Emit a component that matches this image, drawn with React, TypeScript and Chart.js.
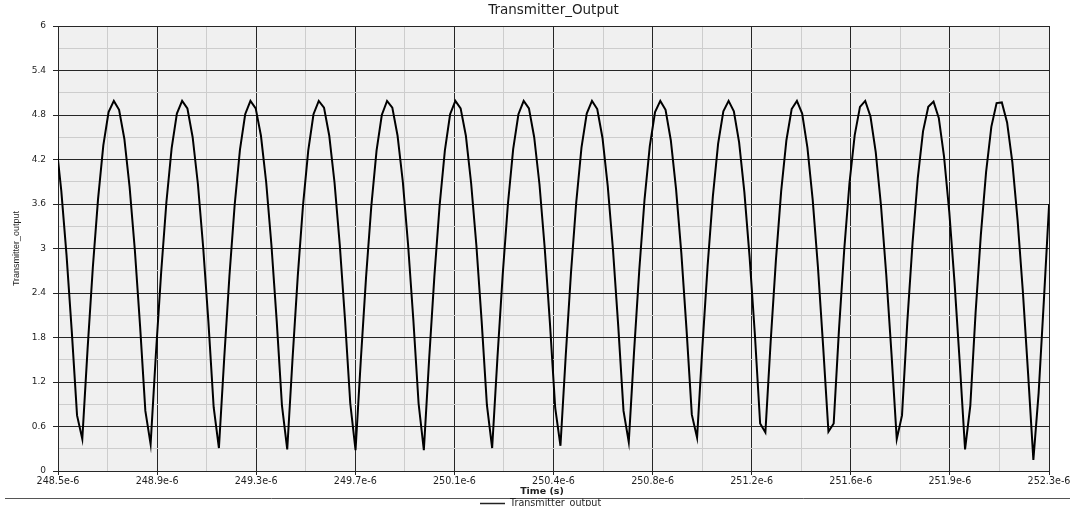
import React, { useEffect, useRef } from 'react';
import { Chart, registerables } from 'chart.js';

Chart.register(...registerables);

// ---- text ----
const CHART_TITLE = 'Transmitter_Output';
const SERIES_LABEL = 'Transmitter_output';
const X_TITLE = 'Time (s)';
const Y_TITLE = 'Transmitter_output';

// ---- axes (time in microseconds) ----
const X_MIN_US = 248.545;
const X_MAX_US = 252.317;
const xTickLabels = [
  '248.5e-6', '248.9e-6', '249.3e-6', '249.7e-6', '250.1e-6', '250.4e-6',
  '250.8e-6', '251.2e-6', '251.6e-6', '251.9e-6', '252.3e-6',
];
const Y_MIN = 0;
const Y_MAX = 6;
const yTickLabels = ['0', '0.6', '1.2', '1.8', '2.4', '3', '3.6', '4.2', '4.8', '5.4', '6'];

// ---- samples: one every 20 ns starting at 248.5375 us ----
const SAMPLE_START_US = 248.5375;
const SAMPLE_STEP_US = 0.02;
const outputValues = [
  4.44, 3.78, 2.91, 1.88, 0.75,
  0.43, 1.64, 2.74, 3.67, 4.39, 4.84, 4.99, 4.87, 4.48, 3.83, 2.98, 1.95, 0.81,
  0.36, 1.57, 2.67, 3.62, 4.35, 4.82, 4.99, 4.89, 4.50, 3.87, 3.02, 2.01, 0.86,
  0.31, 1.51, 2.63, 3.59, 4.33, 4.81, 4.99, 4.89, 4.52, 3.89, 3.04, 2.02, 0.88,
  0.29, 1.50, 2.62, 3.58, 4.32, 4.81, 4.99, 4.90, 4.52, 3.89, 3.05, 2.04, 0.91,
  0.28, 1.49, 2.61, 3.57, 4.32, 4.80, 4.99, 4.90, 4.52, 3.90, 3.05, 2.04, 0.91,
  0.28, 1.50, 2.62, 3.58, 4.32, 4.81, 4.99, 4.89, 4.52, 3.88, 3.04, 2.02, 0.89,
  0.31, 1.52, 2.64, 3.60, 4.34, 4.81, 4.99, 4.89, 4.50, 3.87, 3.01, 1.99, 0.85,
  0.34, 1.55, 2.67, 3.62, 4.36, 4.82, 4.99, 4.88, 4.49, 3.84, 2.98, 1.95, 0.81,
  0.39, 1.60, 2.71, 3.66, 4.38, 4.84, 4.99, 4.87, 4.46, 3.80, 2.94, 1.90, 0.76,
  0.45, 1.66, 2.76, 3.70, 4.41, 4.85, 4.99, 4.85, 4.43, 3.76, 2.88, 1.84, 0.64,
  0.52, 1.74, 2.84, 3.77, 4.46, 4.88, 4.99, 4.82, 4.36, 3.66, 2.75, 1.67,
  0.53, 0.64, 1.90, 2.98, 3.88, 4.53, 4.91, 4.99, 4.78, 4.30, 3.58, 2.65, 1.58,
  0.43, 0.75, 2.00, 3.07, 3.95, 4.58, 4.91, 4.98, 4.76, 4.24, 3.49, 2.54, 1.45,
  0.29, 0.88, 2.13, 3.18, 4.03, 4.64, 4.96, 4.97, 4.70, 4.16, 3.38, 2.42, 1.31,
  0.15, 1.05, 2.30, 3.60, 4.40,
];

// ---- styles ----
const MAJOR_GRID = '#262626';
const MINOR_GRID = '#cdcdcd';
const PLOT_BG = '#f0f0f0';
const TEXT_COLOR = '#1e1e1e';

const decorPlugin = {
  id: 'decor',
  beforeDraw(chart: any) {
    const { ctx, chartArea: a } = chart;
    ctx.save();
    ctx.fillStyle = PLOT_BG;
    ctx.fillRect(a.left, a.top, a.right - a.left, a.bottom - a.top);
    ctx.restore();
  },
  afterDraw(chart: any) {
    const { ctx, chartArea: a } = chart;
    ctx.save();
    ctx.fillStyle = TEXT_COLOR;
    ctx.textAlign = 'center';
    ctx.textBaseline = 'middle';
    ctx.font = '13.5px "DejaVu Sans"';
    ctx.fillText(CHART_TITLE, (a.left + a.right) / 2, 10);

    ctx.font = 'bold 9.5px "DejaVu Sans"';
    ctx.fillText(X_TITLE, 542, 492);

    ctx.strokeStyle = '#555555';
    ctx.lineWidth = 1;
    ctx.beginPath();
    ctx.moveTo(5, 498.5);
    ctx.lineTo(1070, 498.5);
    ctx.stroke();

    ctx.strokeStyle = '#222222';
    ctx.lineWidth = 1.5;
    ctx.beginPath();
    ctx.moveTo(480, 503.5);
    ctx.lineTo(505, 503.5);
    ctx.stroke();

    ctx.textAlign = 'left';
    ctx.font = '9.6px "DejaVu Sans"';
    ctx.fillText(chart.data.datasets[0].label, 510, 503);
    ctx.restore();
  },
};

export default function App() {
  const ref = useRef<HTMLCanvasElement>(null);

  useEffect(() => {
    document.body.style.margin = '0';
    const canvas = ref.current;
    if (!canvas) return;

    const points = outputValues.map((v, i) => ({ x: SAMPLE_START_US + i * SAMPLE_STEP_US, y: v }));
    const xStep = (X_MAX_US - X_MIN_US) / 20;
    const yStep = (Y_MAX - Y_MIN) / 20;

    const chart = new Chart(canvas, {
      type: 'line',
      data: {
        datasets: [
          {
            label: SERIES_LABEL,
            data: points,
            borderColor: '#000000',
            borderWidth: 2,
            pointRadius: 0,
            tension: 0,
            fill: false,
          },
        ],
      },
      options: {
        responsive: false,
        animation: false,
        devicePixelRatio: 1,
        layout: { padding: { top: 26, right: 21, left: 0, bottom: 0 } },
        plugins: {
          legend: { display: false },
          title: { display: false },
          tooltip: { enabled: false },
        },
        scales: {
          x: {
            type: 'linear',
            min: X_MIN_US,
            max: X_MAX_US,
            afterBuildTicks: (s: any) => {
              s.ticks = Array.from({ length: 21 }, (_, i) => ({ value: X_MIN_US + i * xStep }));
            },
            afterFit: (s: any) => {
              s.height = 35;
              s.paddingLeft = 0;
              s.paddingRight = 0;
            },
            ticks: {
              autoSkip: false,
              maxRotation: 0,
              minRotation: 0,
              padding: 1,
              color: TEXT_COLOR,
              font: { family: 'DejaVu Sans', size: 9.6 },
              callback: (_v: any, i: number) => (i % 2 === 0 ? xTickLabels[i / 2] : ''),
            },
            grid: {
              color: (c: any) => (c.index % 2 === 0 ? MAJOR_GRID : MINOR_GRID),
              tickColor: (c: any) => (c.index % 2 === 0 ? MAJOR_GRID : 'rgba(0,0,0,0)'),
              tickLength: 4,
              lineWidth: 1,
            },
            border: { display: true, color: MAJOR_GRID, width: 1 },
          },
          y: {
            type: 'linear',
            min: Y_MIN,
            max: Y_MAX,
            afterBuildTicks: (s: any) => {
              s.ticks = Array.from({ length: 21 }, (_, i) => ({ value: Y_MIN + i * yStep }));
            },
            afterFit: (s: any) => {
              s.width = 58;
              s.paddingTop = 0;
              s.paddingBottom = 0;
            },
            ticks: {
              autoSkip: false,
              padding: 7,
              color: TEXT_COLOR,
              font: { family: 'DejaVu Sans', size: 9 },
              callback: (_v: any, i: number) => (i % 2 === 0 ? yTickLabels[i / 2] : ''),
            },
            grid: {
              color: (c: any) => (c.index % 2 === 0 ? MAJOR_GRID : MINOR_GRID),
              tickColor: (c: any) => (c.index % 2 === 0 ? MAJOR_GRID : 'rgba(0,0,0,0)'),
              tickLength: 5,
              lineWidth: 1,
            },
            border: { display: true, color: MAJOR_GRID, width: 1 },
            title: {
              display: true,
              text: Y_TITLE,
              color: TEXT_COLOR,
              font: { family: 'Liberation Sans', size: 9 },
              padding: { top: 11, bottom: 0 },
            },
          },
        },
      },
      plugins: [decorPlugin],
    });

    return () => chart.destroy();
  }, []);

  return <canvas ref={ref} width={1070} height={506} style={{ display: 'block' }} />;
}
